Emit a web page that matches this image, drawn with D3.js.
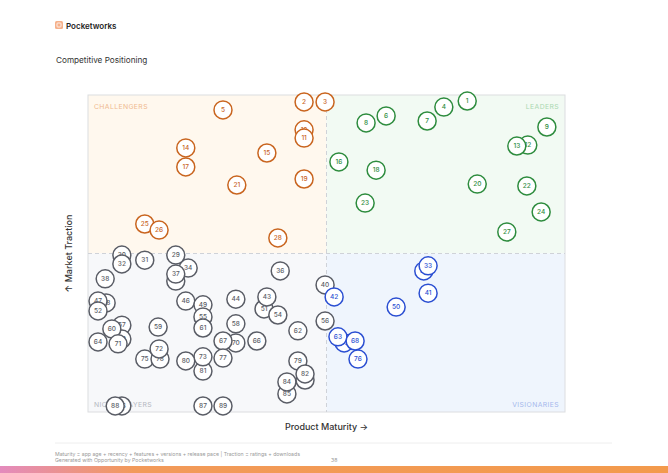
<!DOCTYPE html>
<html><head><meta charset="utf-8">
<script src="https://cdn.jsdelivr.net/npm/d3@7"></script>
<style>body{margin:0;background:#fff}svg{display:block;font-family:Inter,"Noto Sans",sans-serif}</style>
</head><body><div id="c"></div>
<script>
// Draw order (hidden / underneath circles first)
const ids = [10,12,30,35,39,48,57,65,69,83,86,85,81,75,78,70,51,34,
  1,2,3,4,5,6,7,8,9,11,13,14,15,16,17,18,19,20,21,22,23,24,25,26,27,28,
  29,31,32,33,36,37,38,40,41,42,43,44,46,47,49,50,52,54,55,56,58,59,60,61,62,63,64,66,67,68,71,72,73,76,77,79,80,82,84,87,88,89];
const maturity = [45.3,92.2,7.1,70.4,18.4,3.8,7.1,53.7,7.1,45.5,7.1,41.7,24.1,11.9,15.1,31.0,36.9,21.0,
  79.5,45.3,49.7,74.6,28.3,62.5,71.1,58.3,96.2,45.3,89.9,20.5,37.5,52.6,20.5,60.4,45.3,81.6,31.2,92.0,58.1,95.0,11.9,14.9,87.8,39.8,
  18.4,11.9,7.1,71.3,40.3,18.4,3.6,49.7,71.3,51.6,37.5,31.0,20.5,2.1,24.1,64.6,2.1,39.8,24.1,49.7,31.0,14.7,5.0,24.1,44.0,52.4,2.1,35.4,28.3,56.0,6.3,14.9,24.1,56.6,28.3,44.0,20.5,45.5,41.7,24.1,5.7,28.3];
const traction = [89.0,84.2,49.5,44.5,41.3,34.4,27.4,21.8,23.0,10.1,1.9,5.7,12.9,16.7,16.7,21.8,32.5,45.4,
  98.1,97.8,97.8,96.2,95.3,93.4,91.8,91.2,89.9,86.4,83.9,83.3,81.7,78.9,77.3,76.3,73.5,71.9,71.6,71.3,65.9,63.1,59.3,57.4,56.8,54.9,
  49.5,47.9,46.7,46.1,44.5,43.5,42.0,40.1,37.5,36.3,36.3,35.6,35.0,35.0,33.8,33.1,31.9,30.6,30.0,28.7,27.8,26.8,26.2,26.5,25.6,23.7,22.1,22.4,22.4,22.4,21.5,19.9,17.4,16.7,17.0,16.1,16.1,12.0,9.5,1.9,1.9,1.9];
const quadrantNames = ["CHALLENGERS","LEADERS","NICHE PLAYERS","VISIONARIES"];
const xLabel = "Product Maturity \u2192";
const yLabel = "\u2191 Market Traction";

const W=668,H=473;
const svg=d3.select("#c").append("svg").attr("width",W).attr("height",H);
const defs=svg.append("defs");
const g=defs.append("linearGradient").attr("id","bar");
g.append("stop").attr("offset","0%").attr("stop-color","#e48bbd");
g.append("stop").attr("offset","20%").attr("stop-color","#f29a5a");
g.append("stop").attr("offset","100%").attr("stop-color","#f39a4c");

const x=d3.scaleLinear().domain([0,100]).range([88,565]);
const y=d3.scaleLinear().domain([0,100]).range([412,95]);

// header
svg.append("rect").attr("x",55).attr("y",21).attr("width",8).attr("height",8).attr("rx",1.5).attr("fill","#f6b08a");
svg.append("rect").attr("x",57).attr("y",23).attr("width",4).attr("height",4).attr("rx",0.8).attr("fill","none").attr("stroke","#fff").attr("stroke-width",0.8);
svg.append("text").attr("x",66).attr("y",28.5).attr("font-size",8).attr("font-weight",600).attr("fill","#222").text("Pocketworks");
svg.append("text").attr("x",56).attr("y",62.5).attr("font-size",8.2).attr("fill","#333").text("Competitive Positioning");

// quadrants
const quads=[
 {x0:0,x1:50,y0:50,y1:100,fill:"#fff8ee"},
 {x0:50,x1:100,y0:50,y1:100,fill:"#f2faf3"},
 {x0:0,x1:50,y0:0,y1:50,fill:"#f7f8fa"},
 {x0:50,x1:100,y0:0,y1:50,fill:"#eff5fd"}];
svg.selectAll("rect.q").data(quads).join("rect").attr("class","q")
 .attr("x",d=>x(d.x0)).attr("y",d=>y(d.y1)).attr("width",d=>x(d.x1)-x(d.x0)).attr("height",d=>y(d.y0)-y(d.y1)).attr("fill",d=>d.fill);
svg.append("rect").attr("x",x(0)).attr("y",y(100)).attr("width",x(100)-x(0)).attr("height",y(0)-y(100))
 .attr("fill","none").attr("stroke","#dcdde0").attr("stroke-width",1);
svg.append("line").attr("x1",x(50)).attr("x2",x(50)).attr("y1",y(100)).attr("y2",y(0)).attr("stroke","#cfd2d8").attr("stroke-dasharray","4,3");
svg.append("line").attr("x1",x(0)).attr("x2",x(100)).attr("y1",y(50)).attr("y2",y(50)).attr("stroke","#cfd2d8").attr("stroke-dasharray","4,3");

const qlab=[
 {t:quadrantNames[0],x:x(0)+6,y:y(100)+14,a:"start",c:"#efb98f"},
 {t:quadrantNames[1],x:x(100)-6,y:y(100)+14,a:"end",c:"#a9d8b0"},
 {t:quadrantNames[2],x:x(0)+6,y:y(0)-5,a:"start",c:"#b3b7bf"},
 {t:quadrantNames[3],x:x(100)-6,y:y(0)-5,a:"end",c:"#a5b8ec"}];
svg.selectAll("text.ql").data(qlab).join("text").attr("class","ql")
 .attr("x",d=>d.x).attr("y",d=>d.y).attr("text-anchor",d=>d.a).attr("fill",d=>d.c)
 .attr("font-size",6.8).attr("letter-spacing",0.4).text(d=>d.t);

// axis labels
svg.append("text").attr("x",(x(0)+x(100))/2).attr("y",430).attr("text-anchor","middle").attr("font-size",9).attr("font-weight",500).attr("fill","#333").text(xLabel);
svg.append("text").attr("transform",`translate(72,${(y(0)+y(100))/2}) rotate(-90)`).attr("text-anchor","middle").attr("font-size",9).attr("font-weight",500).attr("fill","#333").text(yLabel);

// points
function col(mx,ty){
 if(ty>=50) return mx<50?"#c9651f":"#2e8c3e";
 return mx<50?"#5a5d66":"#2b4fd2";
}
const pts=ids.map((id,i)=>({id,m:maturity[i],t:traction[i]}));
const gp=svg.append("g").selectAll("g").data(pts).join("g").attr("transform",d=>`translate(${x(d.m)},${y(d.t)})`);
gp.append("circle").attr("r",9).attr("fill","#fff").attr("stroke",d=>col(d.m,d.t)).attr("stroke-width",1.5);
gp.append("text").attr("text-anchor","middle").attr("dy","0.35em").attr("font-size",6.5).attr("font-weight",500)
 .attr("fill",d=>col(d.m,d.t)).text(d=>d.id);

// footer
svg.append("line").attr("x1",55).attr("x2",612).attr("y1",443).attr("y2",443).attr("stroke","#eeeeee");
svg.append("text").attr("x",55).attr("y",456).attr("font-size",5.2).attr("fill","#999").text("Maturity = app age + recency + features + versions + release pace | Traction = ratings + downloads");
svg.append("text").attr("x",55).attr("y",461.5).attr("font-size",5.2).attr("fill","#999").text("Generated with Opportunity by Pocketworks");
svg.append("text").attr("x",331).attr("y",461.5).attr("font-size",5.2).attr("fill","#999").text("38");
svg.append("rect").attr("x",0).attr("y",466).attr("width",W).attr("height",7).attr("fill","url(#bar)");
</script></body></html>
